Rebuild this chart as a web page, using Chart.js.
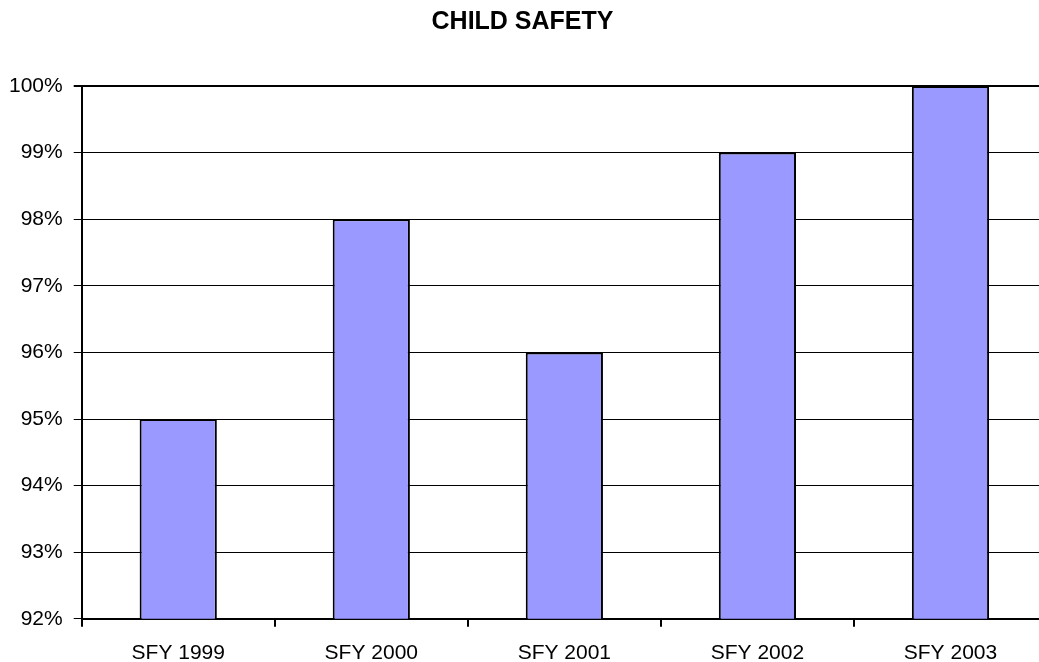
<!DOCTYPE html>
<html>
<head>
<meta charset="utf-8">
<script src="https://cdn.jsdelivr.net/npm/chart.js@4"></script>
<style>
html,body{margin:0;padding:0;background:#fff;overflow:hidden;}
#wrap{width:1039px;height:662px;overflow:hidden;position:relative;}
canvas{display:block;}
</style>
</head>
<body>
<div id="wrap"><canvas id="c" width="1050" height="680"></canvas></div>
<script>
const categories = ["SFY 1999", "SFY 2000", "SFY 2001", "SFY 2002", "SFY 2003"];
const values = [95, 98, 96, 99, 100];
const yMin = 92, yMax = 100, yStep = 1;

const FONT = "'Liberation Sans', Arial, sans-serif";

new Chart(document.getElementById('c'), {
  type: 'bar',
  data: {
    labels: categories,
    datasets: [{
      data: values,
      backgroundColor: '#9999FF',
      borderColor: '#000000',
      borderWidth: 2,
      barPercentage: 0.4,
      categoryPercentage: 1.0
    }]
  },
  options: {
    responsive: false,
    animation: false,
    devicePixelRatio: 1,
    layout: { padding: { left: -2, right: 3, top: 0, bottom: 0 } },
    plugins: {
      legend: { display: false },
      tooltip: { enabled: false },
      title: {
        display: true,
        text: 'CHILD SAFETY',
        color: '#000',
        font: { family: FONT, size: 25, weight: 'bold' },
        padding: { top: 7, bottom: 49 }
      }
    },
    scales: {
      x: {
        grid: {
          offset: true,
          drawOnChartArea: false,
          drawTicks: true,
          tickLength: 8,
          color: '#000',
          lineWidth: 2
        },
        border: { display: true, color: '#000', width: 2 },
        ticks: {
          color: '#000',
          font: { family: FONT, size: 21 },
          padding: 14,
          maxRotation: 0
        }
      },
      y: {
        min: yMin,
        max: yMax,
        grid: {
          color: '#000',
          lineWidth: ctx => (ctx.tick && ctx.tick.value === yMax) ? 2 : 1,
          tickLength: 8,
          drawTicks: true
        },
        border: { display: true, color: '#000', width: 2 },
        ticks: {
          stepSize: yStep,
          color: '#000',
          font: { family: FONT, size: 21 },
          padding: 11,
          callback: v => v + '%'
        }
      }
    }
  }
});
</script>
</body>
</html>
